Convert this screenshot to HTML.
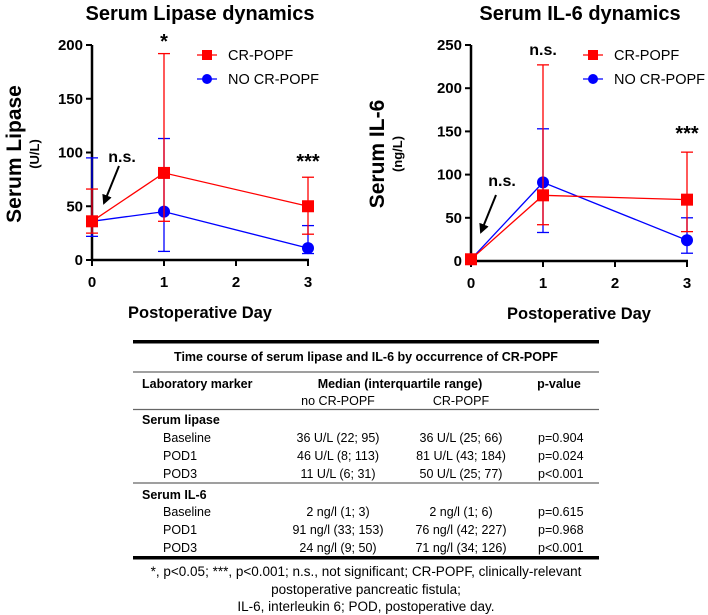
<!DOCTYPE html>
<html><head><meta charset="utf-8"><style>
html,body{margin:0;padding:0;background:#fff;}
svg{display:block;font-family:"Liberation Sans",Arial,sans-serif;}
.b{font-weight:bold;}
</style></head><body>
<svg id="root" width="708" height="615" viewBox="0 0 708 615" xmlns="http://www.w3.org/2000/svg">
<defs><marker id="ah" viewBox="0 0 10 10" refX="8" refY="5" markerWidth="5" markerHeight="5" orient="auto"><path d="M0,0 L10,5 L0,10 z" fill="#000"/></marker></defs>
<g id="lip"></g>
<g id="il6"></g>
<g id="tbl" font-size="12.5">
<rect x="133" y="340" width="466" height="3.5" fill="#000"/>
<text x="366" y="361" text-anchor="middle" class="b">Time course of serum lipase and IL-6 by occurrence of CR-POPF</text>
<line x1="133" y1="372" x2="599" y2="372" stroke="#666" stroke-width="1.2"/>
<text x="142" y="388" class="b">Laboratory marker</text>
<text x="400" y="388" text-anchor="middle" class="b">Median (interquartile range)</text>
<text x="559" y="388" text-anchor="middle" class="b">p-value</text>
<text x="338" y="405" text-anchor="middle">no CR-POPF</text>
<text x="461" y="405" text-anchor="middle">CR-POPF</text>
<line x1="133" y1="409.5" x2="599" y2="409.5" stroke="#666" stroke-width="1.2"/>
<text x="142" y="424" class="b">Serum lipase</text>
<text x="163" y="442">Baseline</text><text x="338" y="442" text-anchor="middle">36 U/L (22; 95)</text><text x="461" y="442" text-anchor="middle">36 U/L (25; 66)</text><text x="538" y="442">p=0.904</text>
<text x="163" y="460">POD1</text><text x="338" y="460" text-anchor="middle">46 U/L (8; 113)</text><text x="461" y="460" text-anchor="middle">81 U/L (43; 184)</text><text x="538" y="460">p=0.024</text>
<text x="163" y="478">POD3</text><text x="338" y="478" text-anchor="middle">11 U/L (6; 31)</text><text x="461" y="478" text-anchor="middle">50 U/L (25; 77)</text><text x="538" y="478">p&lt;0.001</text>
<line x1="133" y1="483" x2="599" y2="483" stroke="#666" stroke-width="1.2"/>
<text x="142" y="499" class="b">Serum IL-6</text>
<text x="163" y="516">Baseline</text><text x="338" y="516" text-anchor="middle">2 ng/l (1; 3)</text><text x="461" y="516" text-anchor="middle">2 ng/l (1; 6)</text><text x="538" y="516">p=0.615</text>
<text x="163" y="534">POD1</text><text x="338" y="534" text-anchor="middle">91 ng/l (33; 153)</text><text x="461" y="534" text-anchor="middle">76 ng/l (42; 227)</text><text x="538" y="534">p=0.968</text>
<text x="163" y="552">POD3</text><text x="338" y="552" text-anchor="middle">24 ng/l (9; 50)</text><text x="461" y="552" text-anchor="middle">71 ng/l (34; 126)</text><text x="538" y="552">p&lt;0.001</text>
<rect x="133" y="556" width="466" height="3.5" fill="#000"/>
<g font-size="13.5">
<text x="366" y="576" text-anchor="middle">*, p&lt;0.05; ***, p&lt;0.001; n.s., not significant; CR-POPF, clinically-relevant</text>
<text x="366" y="594" text-anchor="middle">postoperative pancreatic fistula;</text>
<text x="366" y="611" text-anchor="middle">IL-6, interleukin 6; POD, postoperative day.</text>
</g>
</g>
</svg>
<script>
const days=[0,1,3];
const xTicks=[0,1,2,3];
const lipCrMed=[36,81,50], lipCrLo=[25,36,24], lipCrHi=[66,192,77];
const lipNoMed=[36,45,11], lipNoLo=[22,8,6], lipNoHi=[95,113,32];
const lipYTicks=[0,50,100,150,200];
const il6CrMed=[2,76,71], il6CrLo=[1,42,34], il6CrHi=[6,227,126];
const il6NoMed=[2,91,24], il6NoLo=[1,33,9], il6NoHi=[3,153,50];
const il6YTicks=[0,50,100,150,200,250];
const NS='http://www.w3.org/2000/svg';
function mk(p,tag,a,txt){const e=document.createElementNS(NS,tag);for(const k in a)e.setAttribute(k,a[k]);if(txt!==undefined)e.textContent=txt;p.appendChild(e);return e;}
function chart(g,c){
  const X=v=>c.x0+v*72, Y=v=>c.y0-(v/c.ymax)*(c.y0-c.ytop);
  const t=mk(g,'text',{x:c.tx,y:20,'text-anchor':'middle','font-size':'20','font-weight':'bold'},c.title);
  
  
  mk(g,'line',{x1:c.x0,y1:Y(c.ymax),x2:c.x0,y2:c.y0+1,stroke:'#000','stroke-width':2.5});
  mk(g,'line',{x1:c.x0-1,y1:c.y0,x2:X(3)+1,y2:c.y0,stroke:'#000','stroke-width':2.5});
  c.yt.forEach(v=>{mk(g,'line',{x1:c.x0-6,y1:Y(v),x2:c.x0,y2:Y(v),stroke:'#000','stroke-width':2});
    const l=mk(g,'text',{x:c.x0-9,y:Y(v)+5,'text-anchor':'end','font-size':'15','font-weight':'bold'},v);
    
    });
  xTicks.forEach(v=>{mk(g,'line',{x1:X(v),y1:c.y0,x2:X(v),y2:c.y0+6,stroke:'#000','stroke-width':2});
    const l=mk(g,'text',{x:X(v),y:c.y0+27,'text-anchor':'middle','font-size':'15','font-weight':'bold'},v);
    
    });
  const xa=mk(g,'text',{x:c.x0+108,y:c.y0+58,'text-anchor':'middle','font-size':'16.5','font-weight':'bold'},'Postoperative  Day');
  
  
  xa.setAttribute('xml:space','preserve');
  const ya=mk(g,'text',{transform:`translate(${c.yx},${c.ymid}) rotate(-90)`,'text-anchor':'middle','font-size':'21','font-weight':'bold'},c.ytitle);
  
  
  ya.setAttribute('xml:space','preserve');
  mk(g,'text',{transform:`translate(${c.yx+18},${c.ymid}) rotate(-90)`,'text-anchor':'middle','font-size':'13','font-weight':'bold'},c.yunit);
  const series=[{m:c.noM,lo:c.noL,hi:c.noH,col:'#0000ff',sq:false},{m:c.crM,lo:c.crL,hi:c.crH,col:'#ff0000',sq:true}];
  series.forEach(s=>{
    const sg=mk(g,'g',{});
    
    
    days.forEach((d,i)=>{const x=X(d);
      mk(sg,'line',{x1:x,y1:Y(s.lo[i]),x2:x,y2:Y(s.hi[i]),stroke:s.col,'stroke-width':1.3});
      [s.lo[i],s.hi[i]].forEach(v=>mk(sg,'line',{x1:x-6,y1:Y(v),x2:x+6,y2:Y(v),stroke:s.col,'stroke-width':1.3}));});
    mk(sg,'polyline',{points:days.map((d,i)=>X(d)+','+Y(s.m[i])).join(' '),fill:'none',stroke:s.col,'stroke-width':1.3});
    days.forEach((d,i)=>{let p;
      if(s.sq)p=mk(sg,'rect',{x:X(d)-6,y:Y(s.m[i])-6,width:12,height:12,fill:s.col});
      else p=mk(sg,'circle',{cx:X(d),cy:Y(s.m[i]),r:6,fill:s.col});
      
      });
  });
  [['CR-POPF','#ff0000',55,true],['NO CR-POPF','#0000ff',79,false]].forEach(([n,col,y,sq])=>{
    const lg=mk(g,'g',{});
    
    
    mk(lg,'line',{x1:c.lx-10,y1:y,x2:c.lx+10,y2:y,stroke:col,'stroke-width':1.3});
    if(sq)mk(lg,'rect',{x:c.lx-5,y:y-5,width:10,height:10,fill:col});else mk(lg,'circle',{cx:c.lx,cy:y,r:5,fill:col});
    mk(lg,'text',{x:c.lx+21,y:y+5,'font-size':'14.5'},n);});
  c.ann.forEach(a=>{const e=mk(g,'text',{x:a[0],y:a[1],'text-anchor':'middle','font-size':a[3]||'16','font-weight':'bold'},a[2]);
    
    });
  const ar=mk(g,'line',{x1:c.arr[0],y1:c.arr[1],x2:c.arr[2],y2:c.arr[3],stroke:'#000','stroke-width':2,'marker-end':'url(#ah)'});
  
  
}
chart(document.getElementById('lip'),{x0:92,y0:260,ytop:45,ymax:200,yt:lipYTicks,title:'Serum Lipase dynamics',tx:200,ytitle:'Serum  Lipase',yunit:'(U/L)',yx:21,ymid:154,
 crM:lipCrMed,crL:lipCrLo,crH:lipCrHi,noM:lipNoMed,noL:lipNoLo,noH:lipNoHi,lx:207,
 ann:[[164,48,'*','20'],[122,162,'n.s.'],[308,168,'***','20']],arr:[119,166,104,203]});
chart(document.getElementById('il6'),{x0:471,y0:261,ytop:45,ymax:250,yt:il6YTicks,title:'Serum IL-6 dynamics',tx:580,ytitle:'Serum  IL-6',yunit:'(ng/L)',yx:384,ymid:154,
 crM:il6CrMed,crL:il6CrLo,crH:il6CrHi,noM:il6NoMed,noL:il6NoLo,noH:il6NoHi,lx:593,
 ann:[[543,55,'n.s.'],[502,186,'n.s.'],[687,140,'***','20']],arr:[496,195,481,232]});
</script>
</body></html>
